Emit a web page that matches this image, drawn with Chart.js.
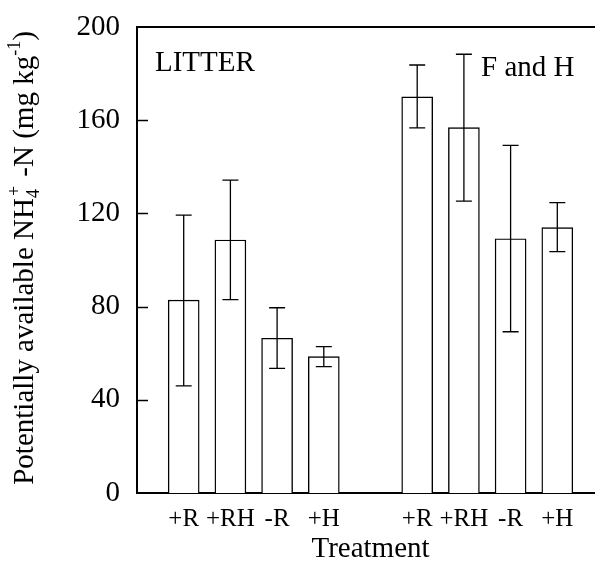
<!DOCTYPE html>
<html>
<head>
<meta charset="utf-8">
<script src="https://cdn.jsdelivr.net/npm/chart.js@4"></script>
<style>
  html, body { margin: 0; padding: 0; background: #fff; overflow: hidden; }
  #wrap { width: 595px; height: 567px; overflow: hidden; }
</style>
</head>
<body>
<div id="wrap"><canvas id="c" width="606" height="567"></canvas></div>
<script>
// valeurs
const treatments = ['+R', '+RH', '-R', '+H']
const litterMean = [82.8, 108.6, 66.4, 58.5]
const litterLow = [46, 83, 53.5, 54.2]
const litterHigh = [119.3, 134.3, 79.5, 62.8]
const fhMean = [170, 156.8, 109.1, 113.9]
const fhLow = [156.7, 125.3, 69.2, 103.6]
const fhHigh = [183.7, 188.3, 149.2, 124.6]
const yTickStep = 40

// une case vide avant, entre et apres les deux groupes
const labels = [''].concat(treatments, [''], treatments, [''])
const means = [null].concat(litterMean, [null], fhMean, [null])
const lows = [null].concat(litterLow, [null], fhLow, [null])
const highs = [null].concat(litterHigh, [null], fhHigh, [null])

const serif = "'Liberation Serif', 'Times New Roman', serif"

// barres d'erreur + petits traits vers l'interieur + ligne du haut
const extras = {
  id: 'extras',
  afterDatasetsDraw(chart) {
    const ctx = chart.ctx
    const y = chart.scales.y
    const area = chart.chartArea
    const meta = chart.getDatasetMeta(0)
    ctx.save()
    ctx.strokeStyle = '#000'
    ctx.lineWidth = 1.3
    meta.data.forEach((bar, i) => {
      if (lows[i] == null) return
      const x = bar.x
      const y1 = y.getPixelForValue(lows[i])
      const y2 = y.getPixelForValue(highs[i])
      ctx.beginPath()
      ctx.moveTo(x, y1); ctx.lineTo(x, y2)
      ctx.moveTo(x - 8, y1); ctx.lineTo(x + 8, y1)
      ctx.moveTo(x - 8, y2); ctx.lineTo(x + 8, y2)
      ctx.stroke()
    })
    // ticks interieurs
    ctx.lineWidth = 1.5
    for (let v = yTickStep; v < 200; v += yTickStep) {
      const py = Math.round(y.getPixelForValue(v)) + 0.5
      ctx.beginPath()
      ctx.moveTo(area.left, py); ctx.lineTo(area.left + 11, py)
      ctx.stroke()
    }
    // ligne du haut
    ctx.lineWidth = 2
    ctx.beginPath()
    ctx.moveTo(area.left, area.top); ctx.lineTo(area.right, area.top)
    ctx.stroke()

    // titres des groupes
    ctx.fillStyle = '#000'
    ctx.font = '29px ' + serif
    ctx.textBaseline = 'alphabetic'
    ctx.textAlign = 'left'
    ctx.fillText('LITTER', area.left + 18, 71)
    ctx.fillText('F and H', 481, 76)
    ctx.restore()
  },
  afterDraw(chart) {
    // titre de l'axe y avec indices / exposants
    const ctx = chart.ctx
    const big = '29px ' + serif
    const small = '18px ' + serif
    const parts = [
      { t: 'Potentially available NH', f: big, dy: 0 },
      { t: '4', f: small, dy: 6, stack: '+' },
      { t: ' -N (mg kg', f: big, dy: 0 },
      { t: '-1', f: small, dy: -13 },
      { t: ')', f: big, dy: 0 }
    ]
    ctx.save()
    ctx.fillStyle = '#000'
    ctx.textBaseline = 'alphabetic'
    ctx.textAlign = 'left'
    let total = 0
    parts.forEach(p => {
      ctx.font = p.f
      p.w = ctx.measureText(p.t).width
      if (p.stack) p.w = Math.max(p.w, ctx.measureText(p.stack).width) + 4
      total += p.w
    })
    ctx.translate(33, 258)
    ctx.rotate(-Math.PI / 2)
    let x = -total / 2
    parts.forEach(p => {
      ctx.font = p.f
      ctx.fillText(p.t, x, p.dy)
      if (p.stack) ctx.fillText(p.stack, x + 2, -13)
      x += p.w
    })
    ctx.restore()
  }
}

new Chart(document.getElementById('c'), {
  type: 'bar',
  data: {
    labels: labels,
    datasets: [{
      data: means,
      backgroundColor: '#fff',
      borderColor: '#000',
      borderWidth: 1.4,
      barThickness: 31
    }]
  },
  options: {
    responsive: false,
    devicePixelRatio: 1,
    animation: false,
    layout: { padding: { top: 27, right: 2, left: 0, bottom: 0 } },
    plugins: { legend: { display: false }, tooltip: { enabled: false } },
    scales: {
      x: {
        offset: false,
        grid: { display: false, drawTicks: false },
        border: { display: true, color: '#000', width: 2 },
        ticks: {
          color: '#000', padding: 11, maxRotation: 0, autoSkip: false,
          font: { family: serif, size: 25 }
        },
        title: {
          display: true, text: 'Treatment', color: '#000',
          font: { family: serif, size: 29 }, padding: { top: 0, bottom: 0 }
        },
        afterFit(scale) { scale.height = 74; scale.paddingLeft = 0; scale.paddingRight = 0 }
      },
      y: {
        min: 0,
        max: 200,
        grid: { display: false, drawTicks: false },
        border: { display: true, color: '#000', width: 2 },
        ticks: {
          stepSize: yTickStep, color: '#000', padding: 17,
          font: { family: serif, size: 29 }
        },
        afterFit(scale) { scale.width = 137; scale.paddingTop = 0; scale.paddingBottom = 0 }
      }
    }
  },
  plugins: [extras]
})
</script>
</body>
</html>
